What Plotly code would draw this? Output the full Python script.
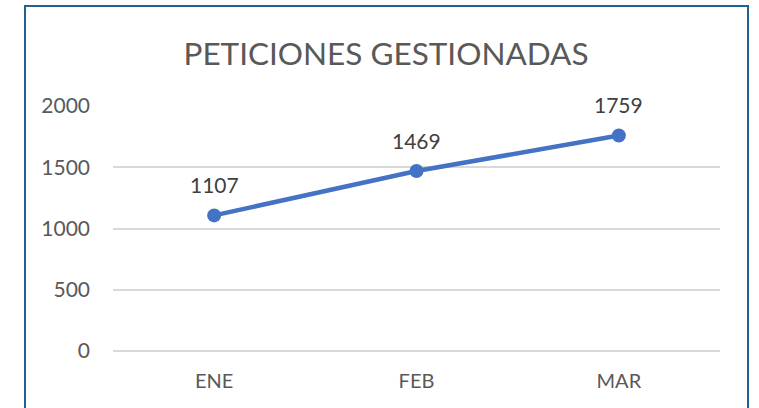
import plotly.graph_objects as go

meses = ["ENE", "FEB", "MAR"]
peticiones = [1107, 1469, 1759]
y_ticks = [0, 500, 1000, 1500, 2000]

W, H = 759, 408
ml, mt = 113, 106
mr = W - 720
mb = H - 351
pw, ph = W - ml - mr, H - mt - mb

fig = go.Figure()
fig.add_trace(go.Scatter(
    x=meses, y=peticiones, mode="lines+markers",
    line=dict(color="#4472C4", width=4.5),
    marker=dict(color="#4472C4", size=14),
    cliponaxis=False,
    showlegend=False,
))

for m, v in zip(meses, peticiones):
    fig.add_annotation(x=m, y=v, text=str(v), showarrow=False,
                       yanchor="middle", yshift=31,
                       font=dict(family="Lato", size=21, color="#404040"))

def px_x(p):
    return (p - ml) / pw

def px_y(p):
    return (H - mb - p) / ph

fig.add_shape(type="rect", xref="paper", yref="paper",
              x0=px_x(25), x1=px_x(748), y0=px_y(440), y1=px_y(6),
              line=dict(color="#1F6391", width=2), fillcolor="rgba(0,0,0,0)")

fig.update_layout(
    width=W, height=H,
    margin=dict(l=ml, r=mr, t=mt, b=mb),
    paper_bgcolor="white", plot_bgcolor="white",
    title=dict(text="PETICIONES GESTIONADAS", x=386 / W, xanchor="center",
               y=1 - 54 / H, yanchor="middle",
               font=dict(family="Lato", size=31.5, color="#595959")),
    font=dict(family="Lato", color="#595959"),
)
fig.update_xaxes(range=[-0.5, 2.5], showgrid=False, showline=False, zeroline=False,
                 ticks="", tickfont=dict(size=20, color="#595959"), ticklabelstandoff=16)
fig.update_yaxes(range=[0, 2000], tickvals=y_ticks, showgrid=True, gridcolor="#D9D9D9",
                 gridwidth=1.5, zeroline=True, zerolinecolor="#D9D9D9", zerolinewidth=1.5,
                 showline=False, ticks="",
                 tickfont=dict(size=21, color="#595959"), ticklabelstandoff=22)

fig.write_html("out.html", config={"displayModeBar": False},
               post_script="document.body.style.margin='0';document.body.style.padding='0';")
